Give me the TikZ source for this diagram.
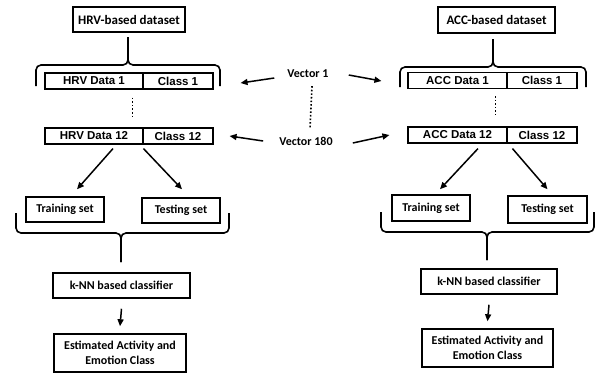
\documentclass[tikz,border=0pt]{standalone}
\usepackage{fontspec}
\setmainfont{Carlito}
\newfontfamily\rowfont{Liberation Sans}
\usetikzlibrary{arrows.meta,positioning,calc}
\tikzset{
  bx/.style={draw, line width=1.5pt, align=center, font=\bfseries\fontsize{12}{15.5}\selectfont, inner sep=1pt},
  setbx/.style={bx, font=\bfseries\fontsize{13}{15}\selectfont},
  cell/.style={draw, line width=1.1pt, minimum height=16pt, inner sep=0pt, font=\rowfont\bfseries\fontsize{11.5}{12}\selectfont},
  arr/.style={-{Triangle[length=7pt,width=6pt]}, line width=1.5pt},
  brc/.style={line width=1.6pt, rounded corners=5pt},
  vec/.style={font=\bfseries\fontsize{12}{13}\selectfont, inner sep=1pt},
}
\begin{document}
\begin{tikzpicture}[x=1pt,y=-1pt]
  \useasboundingbox (0,0) rectangle (602,376);

  % HRV side
  \node[setbx, minimum width=112pt, minimum height=25pt] (hrvset) at (129,19.5) {HRV-based dataset};
  \node[cell, minimum width=98pt] (hrv1d) at (94,81) {HRV Data 1};
  \node[cell, minimum width=70pt] (hrv1c) at (178,81) {Class 1};
  \node[cell, minimum width=98pt] (hrv12d) at (94,136) {HRV Data 12};
  \node[cell, minimum width=70pt] (hrv12c) at (178,136) {Class 12};
  \node[bx, minimum width=78pt, minimum height=25pt] (trainL) at (65,209.5) {Training set};
  \node[bx, minimum width=78pt, minimum height=25pt] (testL) at (181,210.5) {Testing set};
  \node[bx, minimum width=137pt, minimum height=25pt] (knnL) at (121.5,285.5) {k-NN based classifier};
  \node[bx, minimum width=132pt, minimum height=38pt] (estL) at (120,353) {Estimated Activity and\\Emotion Class};

  % ACC side
  \node[setbx, minimum width=117pt, minimum height=26pt] (accset) at (496.5,20) {ACC-based dataset};
  \node[cell, minimum width=99pt] (acc1d) at (457.5,80.5) {ACC Data 1};
  \node[cell, minimum width=70pt] (acc1c) at (542,80.5) {Class 1};
  \node[cell, minimum width=99pt] (acc12d) at (457.5,135) {ACC Data 12};
  \node[cell, minimum width=70pt] (acc12c) at (542,135) {Class 12};
  \node[bx, minimum width=78pt, minimum height=26pt] (trainR) at (431,208) {Training set};
  \node[bx, minimum width=79pt, minimum height=27pt] (testR) at (547.5,209.5) {Testing set};
  \node[bx, minimum width=136pt, minimum height=25pt] (knnR) at (489,281.5) {k-NN based classifier};
  \node[bx, minimum width=131pt, minimum height=38pt] (estR) at (487.5,348) {Estimated Activity and\\Emotion Class};

  % vectors
  \node[vec] (vec1) at (308,74) {Vector 1};
  \node[vec] (vec180) at (306,141) {Vector 180};

  % braces
  \foreach \sx/\ex/\mx/\ty/\by/\sy in {36/220/128/86/65/37, 400/586/493/87/67/39}
  {
    \draw[brc] (\sx,\ty) -- (\sx,\by) -- (\mx,\by) -- (\mx,\sy);
    \draw[brc] (\ex,\ty) -- (\ex,\by) -- (\mx,\by) -- (\mx,\sy);
  }
  \foreach \sx/\ex/\mx/\ty/\by/\sy in {16/229/121/213/233/262, 381/594/487/212/232/260}
  {
    \draw[brc] (\sx,\ty) -- (\sx,\by) -- (\mx,\by) -- (\mx,\sy);
    \draw[brc] (\ex,\ty) -- (\ex,\by) -- (\mx,\by) -- (\mx,\sy);
  }

  % dots between rows
  \draw[line width=1.6pt, dotted] ([shift={(-10,8)}]hrv1c.south west) -- ([shift={(-10,-11)}]hrv12c.north west);
  \draw[line width=1.6pt, dotted] ([shift={(-12,7)}]acc1d.south east) -- ([shift={(-12,-12)}]acc12d.north east);
  \draw[line width=1.6pt, dotted] ([shift={(4,7)}]vec1.south) -- ([shift={(4,-7)}]vec180.north);

  % vector arrows
  \draw[arr] ([shift={(-12,4)}]vec1.west) -- ([shift={(27,2)}]hrv1c.east);
  \draw[arr] ([shift={(19,1)}]vec1.east) -- ([shift={(-26,0.5)}]acc1d.west);
  \draw[arr] ([shift={(-15,0)}]vec180.west) -- ([shift={(16,0)}]hrv12c.east);
  \draw[arr] ([shift={(19,2)}]vec180.east) -- ([shift={(-18,0)}]acc12d.west);

  % split arrows
  \draw[arr] ([shift={(19,4)}]hrv12d.south) -- ([shift={(12,-7)}]trainL.north);
  \draw[arr] ([shift={(1,4)}]hrv12c.south west) -- ([shift={(1,-8)}]testL.north);
  \draw[arr] ([shift={(20.5,5)}]acc12d.south) -- ([shift={(9,-5)}]trainR.north);
  \draw[arr] ([shift={(6,5)}]acc12c.south west) -- ([shift={(0,-6)}]testR.north);

  % classifier arrows
  \draw[arr] ([shift={(0,10)}]knnL.south) -- ([shift={(0,-7)}]estL.north);
  \draw[arr] ([shift={(0,10)}]knnR.south) -- ([shift={(0,-7)}]estR.north);
\end{tikzpicture}
\end{document}
